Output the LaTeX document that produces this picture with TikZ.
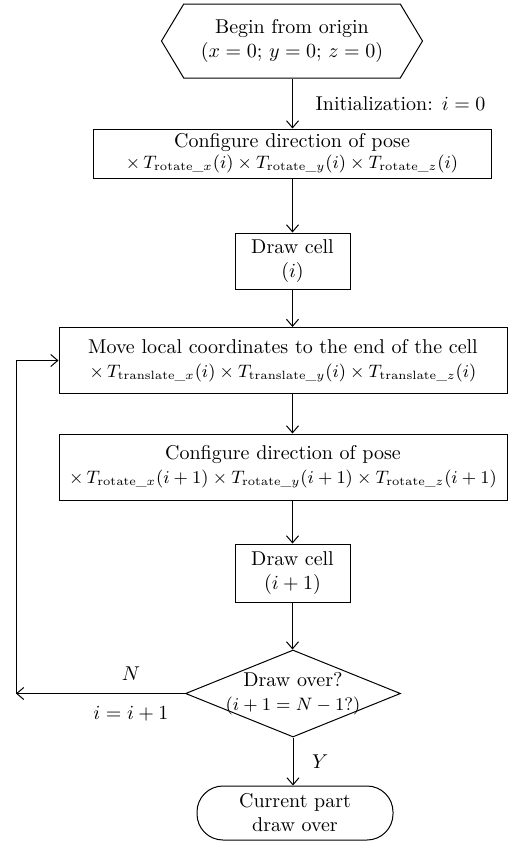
\documentclass[tikz,border=0pt]{standalone}
\usepackage{amsmath}
\usepackage{tikz}
\usetikzlibrary{arrows.meta, positioning, shapes.geometric, shapes.symbols}

\begin{document}
\begin{tikzpicture}[
    x=0.5pt, y=0.5pt,
    >={Straight Barb[length=3.5pt, width=6pt]},
    every path/.style={line width=0.5pt},
    proc/.style={draw, rectangle, inner sep=0pt, align=center},
    startbox/.style={draw, signal, signal to=west and east, signal pointer angle=118, inner sep=0pt, align=center},
    decision/.style={draw, diamond, shape aspect=2.47, inner sep=-3pt, align=center},
    terminal/.style={draw, rectangle, rounded corners=13pt, inner sep=0pt, align=center},
]
  \useasboundingbox (0,0) rectangle (515,-841);

  % Nodes
  \node[startbox, minimum width=130.5pt, minimum height=37pt] (begin) at (292,-41)
    {Begin from origin\\ $(x=0;\, y=0;\, z=0)$};
  \node[proc, minimum width=199pt, minimum height=24.5pt] (pose) at (292,-153.5)
    {Configure direction of pose\\[-1.5pt]
     \small$\times\, T_{\mathrm{rotate}\_x}(i) \times T_{\mathrm{rotate}\_y}(i) \times T_{\mathrm{rotate}\_z}(i)$};
  \node[proc, minimum width=57.5pt, minimum height=28pt] (cell) at (292.5,-261)
    {Draw cell\\ $(i)$};
  \node[proc, minimum width=224pt, minimum height=33pt] (move) at (283,-360.5)
    {Move local coordinates to the end of the cell\\
     \small$\times\, T_{\mathrm{translate}\_x}(i) \times T_{\mathrm{translate}\_y}(i) \times T_{\mathrm{translate}\_z}(i)$};
  \node[proc, minimum width=224pt, minimum height=33pt] (posenext) at (283,-467)
    {Configure direction of pose\\
     \small$\times\, T_{\mathrm{rotate}\_x}(i+1) \times T_{\mathrm{rotate}\_y}(i+1) \times T_{\mathrm{rotate}\_z}(i+1)$};
  \node[proc, minimum width=57.5pt, minimum height=29pt] (cellnext) at (292.5,-573)
    {Draw cell\\ $(i+1)$};
  \node[decision, minimum width=107.5pt, minimum height=43.5pt] (over) at (293,-693.5)
    {Draw over?\\ \small$(i+1=N-1?)$};
  \node[terminal, minimum width=98pt, minimum height=27pt] (done) at (295,-813)
    {Current part\\ draw over};

  \coordinate (loopl) at (16,-693.5);

  % Connectors
  \draw[->] (begin.south -| cell) -- (pose.north -| cell) node[midway, right=8pt] {Initialization: $i=0$};
  \draw[->] (pose.south -| cell) -- (cell);
  \draw[->] (cell) -- (cell |- move.north);
  \draw[->] (move.south -| cell) -- (posenext.north -| cell);
  \draw[->] (posenext.south -| cell) -- (cellnext);
  \draw[->] (cellnext) -- (cellnext |- over.north);
  \draw[->] (over.west) -- (loopl)
    node[pos=0.32, above=3pt] {$N$}
    node[pos=0.32, below=3pt] {$i=i+1$};
  \draw[->] (loopl) |- (move.west);
  \draw[->] (over.south) -- (over.south |- done.north) node[midway, right=6pt] {$Y$};
\end{tikzpicture}
\end{document}
